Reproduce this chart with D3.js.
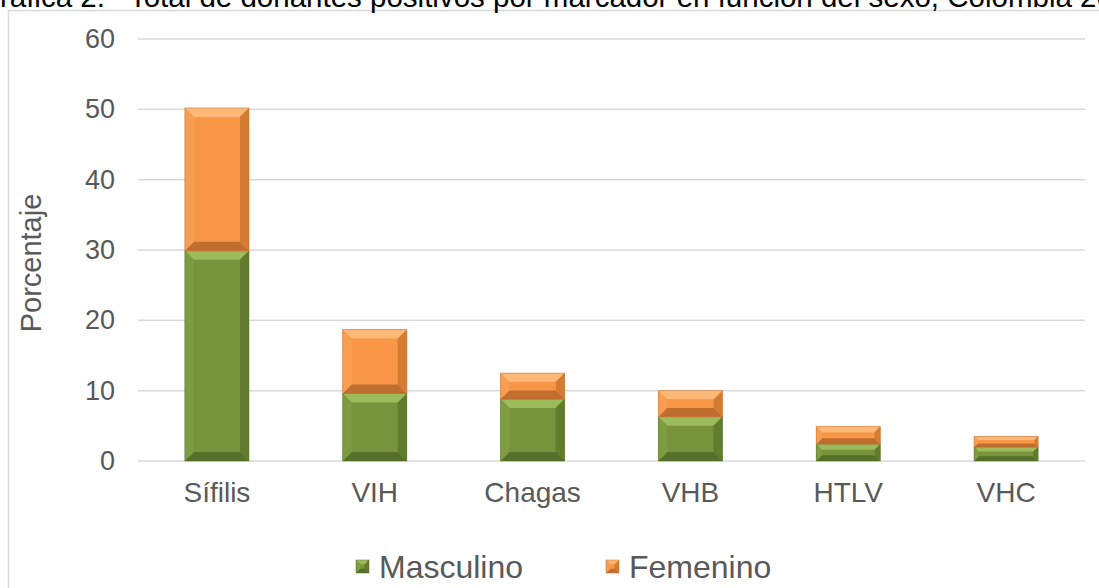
<!DOCTYPE html>
<html>
<head>
<meta charset="utf-8">
<script src="https://cdn.jsdelivr.net/npm/d3@7"></script>
<style>
  html, body { margin: 0; padding: 0; background: #fff; overflow: hidden; }
  text { font-family: 'Liberation Sans', Arial, sans-serif; }
</style>
</head>
<body>
<svg id="chart" width="1099" height="588"></svg>
<script>
const categories = ['Sífilis', 'VIH', 'Chagas', 'VHB', 'HTLV', 'VHC'];
const masculino = [29.9, 9.6, 8.8, 6.3, 2.4, 2.0];
const femenino = [20.3, 9.1, 3.7, 3.7, 2.5, 1.5];
const yTicks = [0, 10, 20, 30, 40, 50, 60];
const seriesNames = ['Masculino', 'Femenino'];

// bevel shades per series: center, top, left, right, bottom
const shades = {
  Masculino: { c: '#77933c', t: '#9dbb5a', l: '#7e9c41', r: '#607c2c', b: '#55702a' },
  Femenino:  { c: '#f79646', t: '#fbb877', l: '#f89d52', r: '#d47c34', b: '#c06e30' }
};

const svg = d3.select('#chart');

// frame
svg.append('rect')
   .attr('x', 8.5).attr('y', 10.5)
   .attr('width', 1200).attr('height', 700)
   .attr('fill', 'none')
   .attr('stroke', '#d9d9d9')
   .attr('stroke-width', 1.5);

// title (cut by the top edge, as in the source)
svg.append('text')
   .attr('x', -23).attr('y', 7)
   .attr('font-size', 29.5)
   .attr('fill', '#000')
   .attr('xml:space', 'preserve')
   .style('white-space', 'pre')
   .text('Gráfica 2.   Total de donantes positivos por marcador en función del sexo, Colombia 2022');

const xScale = d3.scaleBand()
                 .domain(categories)
                 .range([138, 1085])
                 .paddingInner(0.594)
                 .paddingOuter(0.297);
const yScale = d3.scaleLinear()
                 .domain([0, 60])
                 .range([461, 39]);

// grid
svg.append('g')
   .selectAll('line')
   .data(yTicks)
   .enter()
   .append('line')
   .attr('x1', 138).attr('x2', 1085)
   .attr('y1', d => yScale(d)).attr('y2', d => yScale(d))
   .attr('stroke', '#d9d9d9')
   .attr('stroke-width', 1.5);

const yAxis = d3.axisLeft(yScale).tickValues(yTicks).tickSize(0).tickPadding(0);
const gy = svg.append('g')
   .attr('transform', 'translate(115, 0)')
   .call(yAxis);
gy.select('.domain').remove();
gy.selectAll('text').attr('font-size', 27).attr('fill', '#595959')
  .style('font-family', "'Liberation Sans', Arial, sans-serif");

const xAxis = d3.axisBottom(xScale).tickSize(0).tickPadding(0);
const gx = svg.append('g')
   .attr('transform', 'translate(0, 482)')
   .call(xAxis);
gx.select('.domain').remove();
gx.selectAll('text').attr('font-size', 28).attr('fill', '#595959')
  .style('font-family', "'Liberation Sans', Arial, sans-serif");

svg.append('text')
   .attr('transform', 'translate(41, 263) rotate(-90)')
   .attr('text-anchor', 'middle')
   .attr('font-size', 29)
   .attr('fill', '#595959')
   .text('Porcentaje');

// stacked data
const table = categories.map((c, i) => ({ cat: c, Masculino: masculino[i], Femenino: femenino[i] }));
const stacked = d3.stack().keys(seriesNames)(table);

function bevel(g, x0, y0, bw, bh, s, maxB) {
  const x1 = x0 + bw, y1 = y0 + bh;
  const b = Math.min(maxB, bh / 3, bw / 3);
  g.append('rect').attr('x', x0).attr('y', y0).attr('width', bw).attr('height', bh).attr('fill', s.c);
  const polys = [
    [[x0, y0], [x1, y0], [x1 - b, y0 + b], [x0 + b, y0 + b], s.t],
    [[x0, y1], [x1, y1], [x1 - b, y1 - b], [x0 + b, y1 - b], s.b],
    [[x0, y0], [x0 + b, y0 + b], [x0 + b, y1 - b], [x0, y1], s.l],
    [[x1, y0], [x1 - b, y0 + b], [x1 - b, y1 - b], [x1, y1], s.r]
  ];
  polys.forEach(p => {
    g.append('polygon')
     .attr('points', p.slice(0, 4).map(q => q.join(',')).join(' '))
     .attr('fill', p[4]);
  });
  g.append('rect').attr('x', x0).attr('y', y0).attr('width', bw).attr('height', bh)
   .attr('fill', 'none').attr('stroke', s.b).attr('stroke-opacity', 0.6).attr('stroke-width', 0.8);
}

const bars = svg.append('g');
stacked.forEach(layer => {
  const s = shades[layer.key];
  layer.forEach(d => {
    const x0 = xScale(d.data.cat);
    const y0 = yScale(d[1]);
    const bh = yScale(d[0]) - yScale(d[1]);
    bevel(bars.append('g'), x0, y0, xScale.bandwidth(), bh, s, 9);
  });
});

// legend
const legendX = [356, 606];
const legend = svg.append('g');
seriesNames.forEach((name, i) => {
  const g = legend.append('g');
  bevel(g, legendX[i], 560, 13, 13, shades[name], 6.5);
  legend.append('text')
        .attr('x', legendX[i] + 23).attr('y', 578)
        .attr('font-size', 32)
        .attr('fill', '#595959')
        .text(name);
});
</script>
</body>
</html>
